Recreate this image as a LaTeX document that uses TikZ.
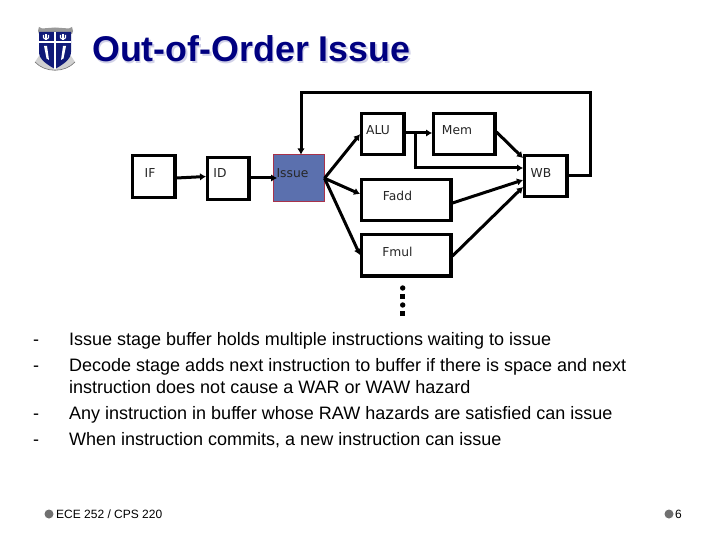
\documentclass[tikz,border=0pt]{standalone}
\usepackage{fontspec}
\setmainfont{Liberation Sans}
\newfontfamily\boxfont{DejaVu Sans}
\usetikzlibrary{arrows.meta,calc}
\definecolor{navytitle}{HTML}{000080}
\definecolor{issuefill}{HTML}{5B70AE}
\definecolor{issueline}{HTML}{A8324A}
\definecolor{shieldblue}{HTML}{101A78}
\definecolor{bulletgrey}{HTML}{707070}
\tikzset{
  x=1pt,y=-1pt,
  stagebox/.style={draw=black,line width=3.3pt,fill=white,inner sep=0pt,anchor=north west},
  boxlabel/.style={font=\boxfont\fontsize{12.3}{14}\selectfont,text=black!85,inner sep=0pt},
  conn/.style={line width=3pt,draw=black,-{Latex[length=6pt,width=7.5pt]}},
  plainconn/.style={line width=3pt,draw=black},
  bodytext/.style={font=\fontsize{18}{21}\selectfont,anchor=base west,inner sep=0pt},
  foottext/.style={font=\fontsize{12}{14}\selectfont,anchor=base west,inner sep=0pt},
  ftdot/.style={circle,fill=bulletgrey,minimum size=9pt,inner sep=0pt},
  titletext/.style={font=\bfseries\fontsize{35.8}{40}\selectfont,anchor=base west,inner sep=0pt}
}
\begin{document}
\begin{tikzpicture}
\useasboundingbox (0,0) rectangle (720,540);
\fill[white] (0,0) rectangle (720,540);
% crest
\fill[black!40] (38,31) -- (39,27) -- (42,28.5) -- (55,27.5) -- (69,28.5) -- (72,27) -- (73,31) -- (72,34) -- (39,34) -- cycle;
\fill[black!18] (35,62) .. controls (45,73) and (65,73) .. (75,62) -- (71,56) -- (39,56) -- cycle;
\draw[black!55,line width=.6pt] (35,62) .. controls (45,73) and (65,73) .. (75,62);
\fill[shieldblue] (39,32) -- (71,32) -- (71,52) .. controls (71,60) and (62,65) .. (55,69) .. controls (48,65) and (39,60) .. (39,52) -- cycle;
\fill[white] (53.8,32) rectangle (56.2,69);
\fill[white] (39,41.5) rectangle (71,43.5);
\fill[white] (44,46) -- (47,46) -- (49,60) -- (46.5,58.5) -- cycle;
\fill[white] (63,46) -- (66,46) -- (63.5,58.5) -- (61,60) -- cycle;
\draw[white,line width=1.1pt] (43.5,35) -- (43.5,37.5) .. controls (43.5,39.5) and (48.5,39.5) .. (48.5,37.5) -- (48.5,35);
\draw[white,line width=1.1pt] (46,34.5) -- (46,40);
\draw[white,line width=1.1pt] (60.5,35) -- (60.5,37.5) .. controls (60.5,39.5) and (65.5,39.5) .. (65.5,37.5) -- (65.5,35);
\draw[white,line width=1.1pt] (63,34.5) -- (63,40);
% title
\node[titletext,text=navytitle!18] at (93.5,63.5) {Out-of-Order Issue};
\node[titletext,text=navytitle] (title) at (92,62) {Out-of-Order Issue};
% stages
\node[stagebox,minimum width=42.2pt,minimum height=42.2pt] (IF) at (131,154) {};
\node[stagebox,minimum width=41.2pt,minimum height=42.2pt] (ID) at (206,156) {};
\node[draw=issueline,line width=1pt,fill=issuefill,inner sep=0pt,anchor=north west,minimum width=50.5pt,minimum height=46.5pt] (Issue) at (273,154.5) {};
\node[stagebox,minimum width=42.2pt,minimum height=41.2pt] (ALU) at (360,112) {};
\node[stagebox,minimum width=61.2pt,minimum height=41.2pt] (Mem) at (432,112) {};
\node[stagebox,minimum width=42.2pt,minimum height=41.2pt] (WB) at (523,154) {};
\node[stagebox,minimum width=89.2pt,minimum height=41.2pt] (Fadd) at (360,178) {};
\node[stagebox,minimum width=89.2pt,minimum height=41.2pt] (Fmul) at (360,233) {};
% labels
\node[boxlabel] (lIF) at (150,173) {IF};
\node[boxlabel] (lID) at (220,173) {ID};
\node[boxlabel] (lIssue) at (292.5,173.5) {Issue};
\node[boxlabel] (lALU) at (378,130.5) {ALU};
\node[boxlabel] (lMem) at (457,130.5) {Mem};
\node[boxlabel] (lWB) at (541,173.5) {WB};
\node[boxlabel] (lFadd) at (397.5,196) {Fadd};
\node[boxlabel] (lFmul) at (397.5,252) {Fmul};
% helper points
\coordinate (branch) at (415,133);
\coordinate (branchlow) at (415,168);
\coordinate (wbin) at (523,168);
\coordinate (issuein) at (277,178);
\coordinate (loopa) at (590,176);
\coordinate (loopb) at (590,93);
\coordinate (loopc) at (301,93);
% connectors
\draw[conn] (IF.east |- 0,178) -- (ID.west |- 0,176.5);
\draw[conn] (ID.east |- 0,178) -- (issuein);
\draw[conn] (Issue.east) -- (ALU.west);
\draw[conn] (Issue.east) -- (Fadd.west |- 0,194);
\draw[conn] (Issue.east) -- (Fmul.west |- 0,255);
\draw[conn] (ALU.east |- 0,133) -- (Mem.west |- 0,133);
\draw[plainconn] (branch) -- (branchlow);
\draw[conn] ([xshift=-1.5pt]branchlow) -- (wbin);
\draw[conn] (Mem.east |- 0,132) -- (WB.west |- 0,158);
\draw[conn] (Fadd.east |- 0,203) -- (WB.west |- 0,180);
\draw[conn] (Fmul.east |- 0,256) -- (WB.west |- 0,187);
\draw[conn,line join=miter] (WB.east |- 0,176) -- (loopa) -- (loopb) -- (loopc) -- (Issue.north -| loopc);
% dots
\fill[black] (402.7,288) circle (2.7pt);
\fill[black] (400.2,293.5) rectangle (405.2,298.5);
\fill[black] (402.7,305) circle (2.7pt);
\fill[black] (400.2,310.5) rectangle (405.2,315.5);
% body text
\node[bodytext] (d1) at (33,345.5) {-};
\node[bodytext] (t1) at (69,345.5) {Issue stage buffer holds multiple instructions waiting to issue};
\node[bodytext] (d2) at (33,371) {-};
\node[bodytext] (t2) at (69,371) {Decode stage adds next instruction to buffer if there is space and next};
\node[bodytext] (t2b) at (69,393) {instruction does not cause a WAR or WAW hazard};
\node[bodytext] (d3) at (33,419) {-};
\node[bodytext] (t3) at (69,419) {Any instruction in buffer whose RAW hazards are satisfied can issue};
\node[bodytext] (d4) at (33,445) {-};
\node[bodytext] (t4) at (69,445) {When instruction commits, a new instruction can issue};
% footer
\node[ftdot] (f1) at (49,514) {};
\node[foottext] (f1t) at (56,518.5) {ECE 252 / CPS 220};
\node[ftdot] (f2) at (669,514) {};
\node[foottext] (f2t) at (675,518.5) {6};
\end{tikzpicture}
\end{document}
